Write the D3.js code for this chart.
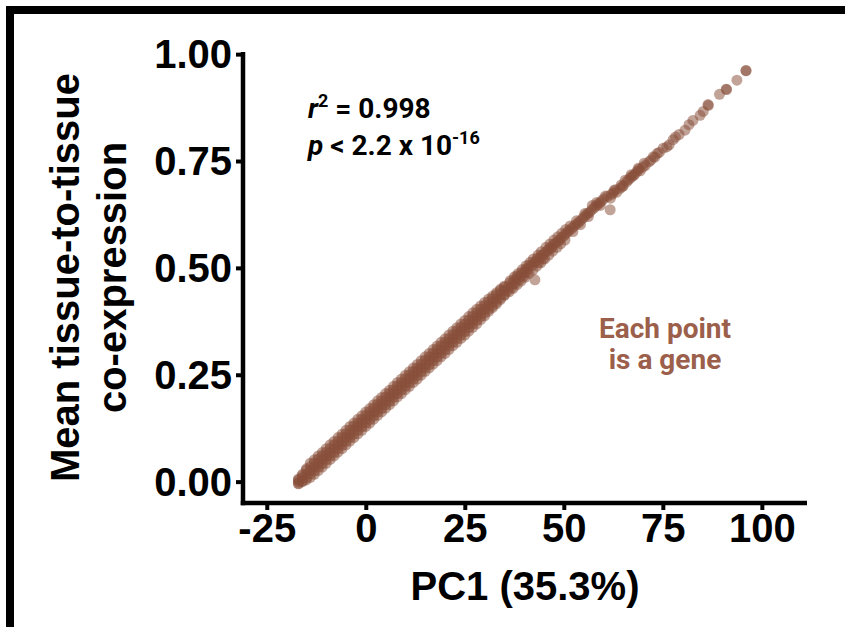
<!DOCTYPE html>
<html>
<head>
<meta charset="utf-8">
<script src="https://cdn.jsdelivr.net/npm/d3@7"></script>
<style>
  html, body { margin: 0; padding: 0; background: #fff; }
  .tick-lbl { font-family: "Liberation Sans", Arial, sans-serif; font-weight: bold; font-size: 40px; fill: #000; }
  .axis-title { font-family: "Liberation Sans", Arial, sans-serif; font-weight: bold; font-size: 40px; fill: #000; }
  .note { font-family: Roboto, "Noto Sans", sans-serif; font-weight: bold; font-size: 28px; }
</style>
</head>
<body>
<div id="chart"></div>
<script>
// chart size
const W = 845, H = 627;

// axis ticks
const xTicks = [-25, 0, 25, 50, 75, 100];
const yTicks = [0, 0.25, 0.5, 0.75, 1];

// genes (PC1 -> mean tissue-to-tissue co-expression)
// dense part of the band: one PC1 column, five rows of co-expression across the band
const bandPC1 = [-17, -16, -15, -14, -13, -12, -11, -10, -9, -8, -7, -6, -5, -4, -3, -2, -1,
  0, 1, 2, 3, 4, 5, 6, 7, 8, 9, 10, 11, 12, 13, 14, 15, 16, 17, 18, 19, 20,
  21, 22, 23, 24, 25, 26, 27, 28, 29, 30, 31, 32, 33, 34, 35];
const bandMid = [0.000, 0.009, 0.018, 0.026, 0.035, 0.043, 0.052, 0.060, 0.068, 0.077, 0.087, 0.094, 0.104, 0.111, 0.121, 0.129, 0.138,
  0.146, 0.155, 0.162, 0.172, 0.181, 0.189, 0.198, 0.205, 0.215, 0.224, 0.232, 0.241, 0.249, 0.258, 0.266, 0.274, 0.284, 0.292, 0.301, 0.308, 0.318,
  0.326, 0.335, 0.344, 0.352, 0.360, 0.369, 0.377, 0.387, 0.394, 0.404, 0.412, 0.421, 0.428, 0.438, 0.447];
const bandHi1 = [0.006, 0.017, 0.027, 0.035, 0.044, 0.053, 0.061, 0.069, 0.078, 0.086, 0.095, 0.104, 0.112, 0.121, 0.130, 0.138, 0.146,
  0.155, 0.164, 0.172, 0.181, 0.189, 0.198, 0.207, 0.215, 0.224, 0.232, 0.241, 0.250, 0.258, 0.266, 0.275, 0.284, 0.292, 0.301, 0.310, 0.318,
  0.326, 0.335, 0.344, 0.353, 0.361, 0.369, 0.378, 0.387, 0.395, 0.404, 0.412, 0.421, 0.429, 0.438, 0.447, 0.455];
const bandLo1 = [-0.005, 0.001, 0.008, 0.018, 0.025, 0.034, 0.042, 0.051, 0.060, 0.068, 0.077, 0.085, 0.094, 0.103, 0.111, 0.120, 0.128,
  0.137, 0.145, 0.154, 0.163, 0.171, 0.180, 0.188, 0.197, 0.206, 0.214, 0.223, 0.231, 0.240, 0.248, 0.257, 0.266, 0.274, 0.283, 0.291, 0.300,
  0.308, 0.317, 0.326, 0.334, 0.343, 0.351, 0.360, 0.369, 0.377, 0.386, 0.394, 0.403, 0.411, 0.420, 0.429, 0.437];
const bandHi2 = [0.004, 0.014, 0.030, 0.043, 0.051, 0.060, 0.068, 0.077, 0.086, 0.094, 0.103, 0.111, 0.120, 0.129, 0.137, 0.146, 0.154,
  0.163, 0.171, 0.180, 0.189, 0.197, 0.206, 0.214, 0.223, 0.232, 0.240, 0.249, 0.257, 0.266, 0.274, 0.283, 0.292, 0.300, 0.309, 0.317, 0.326,
  0.334, 0.343, 0.352, 0.360, 0.369, 0.377, 0.386, 0.395, 0.403, 0.411, 0.419, 0.427, 0.434, 0.442, 0.450, 0.457];
const bandLo2 = [-0.004, 0.000, 0.004, 0.010, 0.017, 0.026, 0.034, 0.043, 0.052, 0.060, 0.069, 0.077, 0.086, 0.095, 0.103, 0.112, 0.120,
  0.129, 0.137, 0.146, 0.155, 0.163, 0.172, 0.180, 0.189, 0.198, 0.206, 0.215, 0.223, 0.232, 0.240, 0.249, 0.258, 0.266, 0.275, 0.283, 0.292,
  0.300, 0.309, 0.318, 0.326, 0.335, 0.343, 0.352, 0.361, 0.369, 0.379, 0.388, 0.398, 0.407, 0.416, 0.426, 0.436];

// middle part, thinner band: [PC1, co-expression]
const midGenes = [
  [36, 0.455], [36.3, 0.465], [35.8, 0.446], [36.5, 0.470], [36.2, 0.444],
  [37, 0.463], [37.4, 0.472], [36.8, 0.454], [37.5, 0.479], [37.2, 0.452],
  [38, 0.472], [38.2, 0.481], [37.7, 0.463], [38.5, 0.487], [38.2, 0.461],
  [39, 0.481], [39.3, 0.489], [38.8, 0.472], [39.5, 0.496], [39.2, 0.469],
  [40, 0.489], [40.4, 0.497], [39.8, 0.480], [40.5, 0.505], [40.2, 0.478],
  [41, 0.498], [41.2, 0.506], [40.7, 0.489], [41.5, 0.513], [41.2, 0.487],
  [42, 0.506], [42.5, 0.513], [42.7, 0.472], [42.3, 0.521], [42.2, 0.495],
  [43, 0.515], [43.3, 0.522], [43.6, 0.512], [43.5, 0.530], [43.2, 0.504],
  [44, 0.524], [44.4, 0.530], [44.8, 0.521], [44.3, 0.538], [44.2, 0.512],
  [45, 0.532], [45.5, 0.538], [45.5, 0.548], [45.2, 0.521],
  [46, 0.541], [46.4, 0.547], [46.8, 0.545], [46.5, 0.556], [46.2, 0.530],
  [47, 0.549], [47.5, 0.556], [47.5, 0.565], [47.2, 0.539],
  [48, 0.558], [48.5, 0.562], [48.5, 0.573], [48.3, 0.548],
  [49, 0.566], [49.4, 0.571], [49.5, 0.581], [49.2, 0.556],
  [50, 0.575], [50.5, 0.579], [50.5, 0.590], [50.3, 0.565],
  [51, 0.584], [51.4, 0.588], [51.6, 0.598], [52, 0.592], [52.5, 0.597], [52.3, 0.585],
  [53, 0.601], [53.6, 0.605], [53.2, 0.610], [54, 0.609], [54.6, 0.614], [54.2, 0.601],
  [55, 0.618], [55.5, 0.623], [55.3, 0.627], [56, 0.627], [56.5, 0.630], [56.2, 0.620],
  [57, 0.635], [57.2, 0.646], [57.6, 0.640], [58, 0.644], [58.6, 0.648], [58.3, 0.653],
  [59, 0.652], [59.5, 0.656], [59.2, 0.646], [60, 0.661], [61.7, 0.636]
];

// sparse tail towards the top right
const tailGenes = [
  [60.5, 0.668], [61, 0.667], [61.8, 0.663], [62, 0.672], [62.5, 0.675], [62.7, 0.681],
  [63, 0.683], [63.4, 0.677], [64.2, 0.686], [64.5, 0.694], [64.8, 0.690], [65, 0.692],
  [65.5, 0.705], [65.9, 0.701], [66.3, 0.706], [66.8, 0.710], [67, 0.718], [67.2, 0.714],
  [67.6, 0.716], [68, 0.720], [68.5, 0.726], [68.8, 0.733], [69, 0.731], [69.3, 0.727],
  [70, 0.736], [70.3, 0.745], [70.6, 0.740], [71.5, 0.748], [72, 0.752], [72.6, 0.760],
  [73, 0.759], [73.6, 0.768], [74.1, 0.770], [75.1, 0.780], [76, 0.783], [76.6, 0.788],
  [77.6, 0.800], [78.2, 0.806], [79.1, 0.812], [80.6, 0.822], [81.6, 0.835], [82.6, 0.845],
  [84.4, 0.857], [85.2, 0.866], [86.5, 0.880], [86.4, 0.882], [89.3, 0.906], [91, 0.918],
  [91.1, 0.917], [93.7, 0.939], [96, 0.961], [96, 0.962]
];

const bandRows = [bandLo2, bandLo1, bandMid, bandHi1, bandHi2];
const genes = [];
bandRows.forEach(row => row.forEach((v, i) => genes.push([bandPC1[i], v])));
midGenes.forEach(d => genes.push(d));
tailGenes.forEach(d => genes.push(d));

// colours
const pointColor = "#884f39";
const noteColor = "#9b5f4b";

const svg = d3.select("#chart").append("svg")
    .attr("width", W)
    .attr("height", H);

// outer frame (cut off at right and bottom)
svg.append("path")
    .attr("d", "M10," + (H + 10) + " L10,10 L" + (W + 10) + ",10")
    .attr("fill", "none")
    .attr("stroke", "#000")
    .attr("stroke-width", 8);

// scales
const x = d3.scaleLinear().domain([-31, 111.4]).range([243, 807]);
const y = d3.scaleLinear().domain([-0.05, 1.005]).range([503, 52]);

// points
svg.append("g")
    .selectAll("circle")
    .data(genes)
    .join("circle")
    .attr("cx", d => x(d[0]))
    .attr("cy", d => y(d[1]))
    .attr("r", 5.5)
    .attr("fill", pointColor)
    .attr("fill-opacity", 0.52);

// x axis
const xAxis = svg.append("g")
    .attr("transform", "translate(0," + y.range()[0] + ")")
    .call(d3.axisBottom(x).tickValues(xTicks).tickSize(7).tickSizeOuter(0).tickFormat(d => String(d)));
xAxis.select(".domain").remove();
xAxis.selectAll(".tick line").attr("stroke", "#000").attr("stroke-width", 4);
xAxis.selectAll(".tick text")
    .attr("class", "tick-lbl")
    .attr("y", 39)
    .attr("dy", 0);
xAxis.append("line")
    .attr("x1", x.range()[0] - 2.25).attr("x2", x.range()[1])
    .attr("stroke", "#000").attr("stroke-width", 4.5);

// y axis
const yAxis = svg.append("g")
    .attr("transform", "translate(" + x.range()[0] + ",0)")
    .call(d3.axisLeft(y).tickValues(yTicks).tickSize(7).tickSizeOuter(0).tickFormat(d3.format(".2f")));
yAxis.select(".domain").remove();
yAxis.selectAll(".tick line").attr("stroke", "#000").attr("stroke-width", 4);
yAxis.selectAll(".tick text")
    .attr("class", "tick-lbl")
    .attr("x", -11)
    .attr("dy", "0.34em");
yAxis.append("line")
    .attr("y1", y.range()[0] + 2.25).attr("y2", y.range()[1])
    .attr("stroke", "#000").attr("stroke-width", 4.5);

// axis titles
svg.append("text")
    .attr("class", "axis-title")
    .attr("x", (x.range()[0] + x.range()[1]) / 2)
    .attr("y", 600)
    .attr("text-anchor", "middle")
    .text("PC1 (35.3%)");

const yMid = (y.range()[0] + y.range()[1]) / 2;
const yTitle = svg.append("text")
    .attr("class", "axis-title")
    .attr("text-anchor", "middle")
    .attr("transform", "translate(79," + yMid + ") rotate(-90)");
yTitle.append("tspan").attr("x", 0).attr("y", 0).text("Mean tissue-to-tissue");
yTitle.append("tspan").attr("x", 0).attr("y", 47).text("co-expression");

// stats
const r2 = svg.append("text").attr("class", "note").attr("x", 308).attr("y", 118).attr("fill", "#000");
r2.append("tspan").attr("font-style", "italic").text("r");
r2.append("tspan").attr("font-size", "18px").attr("dy", -11).text("2");
r2.append("tspan").attr("dy", 11).text(" = 0.998");

const pv = svg.append("text").attr("class", "note").attr("x", 308).attr("y", 155).attr("fill", "#000");
pv.append("tspan").attr("font-style", "italic").text("p");
pv.append("tspan").text(" < 2.2 x 10");
pv.append("tspan").attr("font-size", "18px").attr("dy", -11).text("-16");

// label
const lbl = svg.append("text")
    .attr("class", "note")
    .attr("fill", noteColor)
    .attr("text-anchor", "middle");
lbl.append("tspan").attr("x", 665).attr("y", 338).text("Each point");
lbl.append("tspan").attr("x", 665).attr("y", 369).text("is a gene");
</script>
</body>
</html>
